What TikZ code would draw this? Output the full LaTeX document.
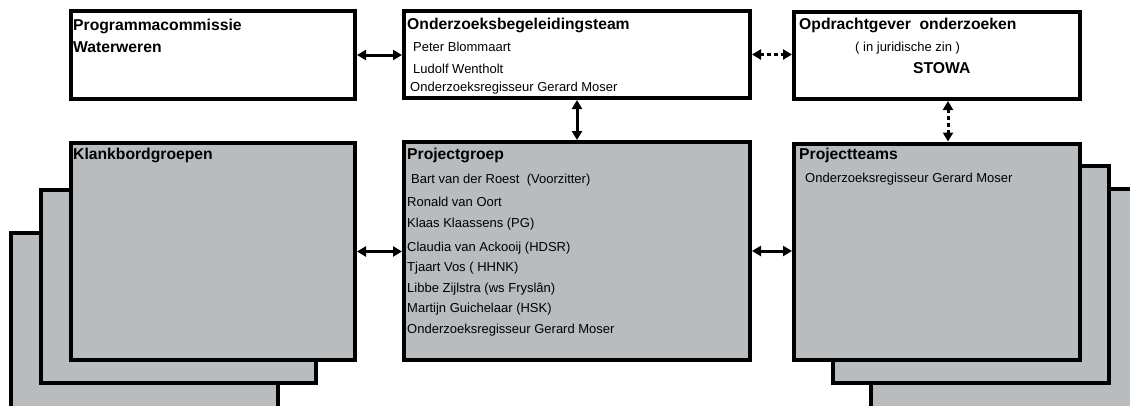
\documentclass[tikz,border=0pt]{standalone}
\usepackage{fontspec}
\setmainfont{Liberation Sans}
\usetikzlibrary{arrows.meta,calc}
\definecolor{ink}{HTML}{000000}
\definecolor{panel}{HTML}{B8BCBF}

\begin{document}
\begin{tikzpicture}[x=1pt,y=-1pt,
  box/.style={draw=ink,line width=4pt,inner sep=0pt,rectangle},
  whitebox/.style={box,fill=white},
  greybox/.style={box,fill=panel},
  head/.style={anchor=base west,inner sep=0pt,font=\fontsize{15.7}{18}\selectfont\bfseries},
  member/.style={anchor=base west,inner sep=0pt,font=\fontsize{13}{16}\selectfont},
  link/.style={ink,line width=3pt,{Triangle[length=9pt,width=10pt]}-{Triangle[length=9pt,width=10pt]}},
  dotlink/.style={link,dash pattern=on 4pt off 3pt}]
\useasboundingbox (0,0) rectangle (1130,405);
\clip (0,0) rectangle (1130,405);
% top row
\node[whitebox,minimum width=284.5pt,minimum height=88pt] (pc) at (212.75,55) {};
\node[whitebox,minimum width=346pt,minimum height=87pt] (obt) at (577,54.5) {};
\node[whitebox,minimum width=286pt,minimum height=87pt] (og) at (937,55.5) {};
% stacked sheets behind
\node[greybox,minimum width=267pt,minimum height=200pt] (kb3) at (144.5,332.5) {};
\node[greybox,minimum width=275pt,minimum height=193pt] (kb2) at (178.5,286.5) {};
\node[greybox,minimum width=289pt,minimum height=241pt] (pt3) at (1015.5,309.5) {};
\node[greybox,minimum width=276pt,minimum height=217.5pt] (pt2) at (971,274.25) {};
% bottom row
\node[greybox,minimum width=284.5pt,minimum height=217pt] (kb) at (212.75,251.5) {};
\node[greybox,minimum width=346pt,minimum height=218pt] (pg) at (577,251) {};
\node[greybox,minimum width=286pt,minimum height=216.5pt] (pt) at (937,251.75) {};
% texts
\node[head] (pc-1) at (73,30) {Programmacommissie};
\node[head] (pc-2) at (73,52) {Waterweren};
\node[head] (obt-1) at (407,29.3) {Onderzoeksbegeleidingsteam};
\node[member] (obt-2) at (413,51.7) {Peter Blommaart};
\node[member] (obt-3) at (413,73.3) {Ludolf Wentholt};
\node[member] (obt-4) at (410,91.7) {Onderzoeksregisseur Gerard Moser};
\node[head] (og-1) at (799,29.3) {Opdrachtgever\ \ onderzoeken};
\node[member] (og-2) at (855,51.7) {( in juridische zin )};
\node[head] (og-3) at (913,73.3) {STOWA};
\node[head] (kb-1) at (73,159) {Klankbordgroepen};
\node[head] (pg-1) at (407,159) {Projectgroep};
\node[member] (pg-2) at (411,183) {Bart van der Roest\ \ (Voorzitter)};
\node[member] (pg-3) at (407,206) {Ronald van Oort};
\node[member] (pg-4) at (407,227) {Klaas Klaassens (PG)};
\node[member] (pg-5) at (407,251) {Claudia van Ackooij (HDSR)};
\node[member] (pg-6) at (407,271) {Tjaart Vos ( HHNK)};
\node[member] (pg-7) at (407,292) {Libbe Zijlstra (ws Fryslân)};
\node[member] (pg-8) at (407,312) {Martijn Guichelaar (HSK)};
\node[member] (pg-9) at (407,333) {Onderzoeksregisseur Gerard Moser};
\node[head] (pt-1) at (799,159) {Projectteams};
\node[member] (pt-2) at (805,182.7) {Onderzoeksregisseur Gerard Moser};
% connectors
\draw[link] (pc.east) -- (pc.east -| obt.west);
\draw[dotlink] (obt.east) -- (obt.east -| og.west);
\draw[link] (obt.south) -- (obt.south |- pg.north);
\draw[dotlink] ([xshift=11pt]og.south) -- ([xshift=11pt]og.south |- pt.north);
\draw[link] (kb.east) -- (kb.east -| pg.west);
\draw[link] (pg.east) -- (pg.east -| pt.west);
\end{tikzpicture}
\end{document}
